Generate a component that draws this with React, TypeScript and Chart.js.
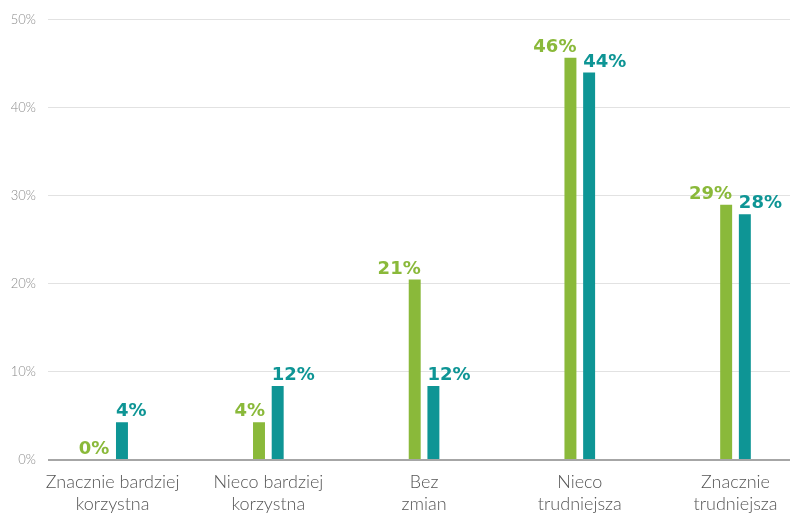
import React, { useEffect, useRef } from 'react';
import { Chart, registerables } from 'chart.js';

Chart.register(...registerables);

const categories: string[][] = [
  ['Znacznie bardziej', 'korzystna'],
  ['Nieco bardziej', 'korzystna'],
  ['Bez', 'zmian'],
  ['Nieco', 'trudniejsza'],
  ['Znacznie', 'trudniejsza'],
];
const greenValues = [0, 4.3, 20.5, 45.7, 29.0];
const tealValues = [4.3, 8.4, 8.4, 44.0, 27.9];
const greenLabels = ['0%', '4%', '21%', '46%', '29%'];
const tealLabels = ['4%', '12%', '12%', '44%', '28%'];
const yTicks = [0, 10, 20, 30, 40, 50];

const GREEN = '#8ab93a';
const TEAL = '#0e9595';

const labelPlugin = {
  id: 'barLabels',
  afterDatasetsDraw(chart: any) {
    const ctx = chart.ctx;
    ctx.save();
    ctx.font = 'bold 18px "DejaVu Sans"';
    ctx.textBaseline = 'alphabetic';
    const sets = [greenLabels, tealLabels];
    chart.data.datasets.forEach((ds: any, di: number) => {
      const meta = chart.getDatasetMeta(di);
      meta.data.forEach((el: any, i: number) => {
        const { x, y, width } = el.getProps(['x', 'y', 'width'], true);
        ctx.fillStyle = ds.backgroundColor;
        if (di === 0) {
          ctx.textAlign = 'right';
          ctx.fillText(sets[di][i], x + width / 2, y - 6);
        } else {
          ctx.textAlign = 'left';
          ctx.fillText(sets[di][i], x - width / 2, y - 6);
        }
      });
    });
    ctx.restore();
  },
};

export default function App() {
  const ref = useRef<HTMLCanvasElement>(null);
  useEffect(() => {
    if (!ref.current) return;
    const chart = new Chart(ref.current, {
      type: 'bar',
      data: {
        datasets: [
          {
            label: 'A',
            data: greenValues.map((v, i) => ({ x: i, y: v })),
            backgroundColor: GREEN,
            barPercentage: 0.64,
            categoryPercentage: 0.24,
          },
          {
            label: 'B',
            data: tealValues.map((v, i) => ({ x: i, y: v })),
            backgroundColor: TEAL,
            barPercentage: 0.64,
            categoryPercentage: 0.24,
          },
        ],
      },
      options: {
        responsive: false,
        animation: false,
        devicePixelRatio: 1,
        layout: { padding: { top: 17, right: 0, left: 0, bottom: 0 } },
        plugins: { legend: { display: false }, tooltip: { enabled: false } },
        scales: {
          x: {
            type: 'linear',
            offset: false,
            min: -0.415,
            max: 4.35,
            grid: { display: false, drawTicks: false, offset: false },
            border: { display: false },
            afterBuildTicks: (scale: any) => {
              scale.ticks = categories.map((_, i) => ({ value: i }));
            },
            afterFit: (scale: any) => {
              scale.height = 56;
            },
            ticks: {
              autoSkip: false,
              maxRotation: 0,
              padding: 11,
              color: '#555555',
              font: { family: 'Lato', size: 18, weight: '300', lineHeight: 1.22 },
              callback: (v: any) => categories[Math.round(Number(v))] ?? '',
            },
          },
          y: {
            min: 0,
            max: 50,
            afterBuildTicks: (scale: any) => {
              scale.ticks = yTicks.map((v) => ({ value: v }));
            },
            afterFit: (scale: any) => {
              scale.width = 48;
            },
            border: { display: false },
            grid: {
              drawTicks: false,
              color: (c: any) => (c.tick && c.tick.value === 0 ? '#a6a6a6' : '#e2e2e2'),
              lineWidth: (c: any) => (c.tick && c.tick.value === 0 ? 2 : 1),
            },
            ticks: {
              padding: 12,
              color: '#8a8a8a',
              font: { family: 'Lato', size: 13, weight: '300' },
              callback: (v: any) => `${v}%`,
            },
          },
        },
      },
      plugins: [labelPlugin],
    } as any);
    return () => chart.destroy();
  }, []);
  return (
    <div style={{ position: 'fixed', left: 0, top: 0, width: 790, height: 516, background: '#fff' }}>
      <canvas ref={ref} width={790} height={516} style={{ display: 'block', width: 790, height: 516 }} />
    </div>
  );
}
